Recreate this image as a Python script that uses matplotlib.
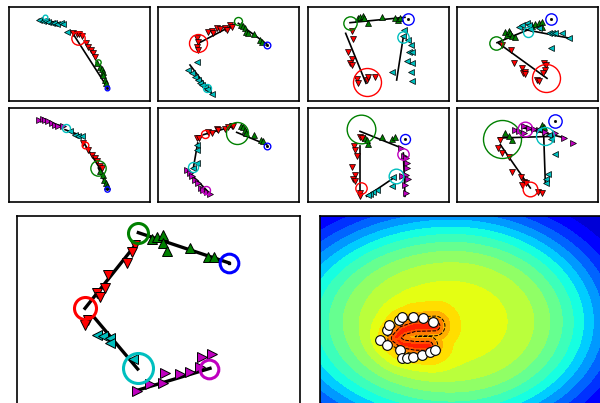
import numpy as np
import matplotlib
matplotlib.use("Agg")
import matplotlib.pyplot as plt

W, H = 600, 403

# ---------------- data (zoomed pixel units per panel) -------------
panel_origin = [(0, 0), (155, 0), (305, 0), (452, 0),
                (0, 103), (155, 103), (305, 103), (452, 103)]
panel_box = [(9, 7), (158, 7), (308, 7), (457, 7),
             (9, 108), (158, 108), (308, 108), (457, 108)]
panel_w, panel_h = 141, 94

nodes1 = [('c', 135, 50, 7), ('r', 235, 115, 20), ('g', 295, 185, 8), ('b', 322, 265, 7)]
segs1 = [(118, 58, 195, 72), (215, 95, 322, 262)]
pts1 = {'c': [(118, 60), (128, 62), (137, 63), (145, 66), (155, 68), (163, 70), (172, 72), (183, 70), (190, 72), (200, 95)],
        'r': [(220, 98), (230, 103), (238, 102), (245, 108), (258, 130), (265, 140), (272, 150), (280, 160), (285, 172)],
        'g': [(290, 190), (300, 200), (305, 208), (310, 215), (308, 225), (315, 240), (318, 250)]}

nodes2 = [('g', 248, 62, 12), ('b', 337, 135, 10), ('r', 128, 128, 27), ('c', 155, 265, 12)]
segs2 = [(250, 70, 335, 132), (130, 130, 240, 72), (105, 195, 170, 280)]
pts2 = {'g': [(258, 75), (265, 78), (270, 85), (272, 95), (280, 98), (298, 102), (315, 120), (320, 125)],
        'r': [(125, 115), (128, 125), (125, 140), (128, 150), (160, 95), (170, 92), (175, 100), (185, 85), (195, 88), (210, 85), (215, 90), (225, 75), (232, 80)],
        'c': [(125, 185), (100, 210), (110, 220), (120, 232), (130, 240), (135, 250), (140, 255), (150, 262), (160, 270), (170, 282), (155, 268)]}

nodes3 = [('g', 135, 68, 20), ('b', 310, 58, 17), ('r', 185, 245, 42), ('c', 295, 110, 17)]
segs3 = [(135, 68, 300, 52), (122, 100, 183, 250), (295, 110, 275, 240)]
pts3 = {'g': [(160, 55), (165, 50), (175, 48), (178, 55), (190, 70), (230, 50), (270, 55), (278, 60), (285, 55)],
        'r': [(140, 92), (145, 118), (130, 155), (140, 178), (135, 190), (140, 196), (155, 238), (160, 248), (185, 240), (190, 232), (210, 230)],
        'c': [(298, 90), (295, 108), (310, 120), (318, 135), (312, 155), (320, 155), (305, 183), (320, 190), (262, 215), (318, 215), (320, 242)]}

nodes4 = [('b', 298, 58, 17), ('g', 133, 128, 20), ('c', 228, 95, 15), ('r', 283, 233, 42)]
segs4 = [(135, 128, 270, 72), (215, 88, 355, 115), (140, 130, 285, 235)]
pts4 = {'g': [(160, 95), (165, 105), (170, 92), (175, 100), (180, 108), (190, 110), (240, 78), (250, 73), (262, 70), (270, 65), (270, 80)],
        'c': [(200, 80), (210, 75), (225, 70), (230, 75), (235, 88), (260, 85), (290, 100), (300, 98), (310, 100), (330, 100), (350, 113), (297, 143)],
        'r': [(150, 135), (178, 150), (187, 188), (210, 203), (213, 218), (220, 215), (218, 222), (275, 190), (282, 195), (278, 210), (272, 220), (255, 240), (262, 243)]}

nodes5 = [('c', 198, 75, 12), ('r', 255, 125, 10), ('g', 295, 195, 23), ('b', 322, 258, 8)]
segs5 = [(115, 50, 190, 70), (195, 80, 250, 100), (255, 125, 305, 205), (295, 195, 322, 255)]
pts5 = {'m': [(118, 50), (128, 48), (135, 52), (145, 55), (155, 60), (165, 65), (175, 68), (188, 68)],
        'c': [(210, 85), (225, 95), (235, 98), (245, 100)],
        'r': [(250, 120), (265, 140), (275, 155), (285, 165), (290, 175), (300, 190), (305, 195)],
        'g': [(300, 205), (310, 215), (312, 230), (318, 240), (322, 248)]}

nodes6 = [('r', 150, 92, 12), ('g', 245, 90, 33), ('b', 337, 128, 10), ('c', 115, 193, 15), ('m', 152, 262, 12)]
segs6 = [(145, 95, 235, 70), (245, 88, 335, 125), (128, 120, 115, 195), (95, 200, 165, 272)]
pts6 = {'r': [(125, 105), (132, 105), (160, 88), (170, 90), (185, 78), (190, 82), (210, 78), (220, 72), (230, 70), (235, 68)],
        'g': [(258, 68), (265, 72), (270, 80), (272, 90), (298, 97), (318, 112), (325, 115)],
        'c': [(125, 125), (125, 140), (125, 180), (115, 195)],
        'm': [(95, 200), (105, 210), (112, 220), (120, 230), (130, 240), (138, 255), (145, 262), (155, 268), (165, 272)]}

nodes7 = [('g', 168, 78, 43), ('b', 300, 108, 15), ('r', 168, 255, 17), ('m', 295, 152, 17), ('c', 272, 220, 22)]
segs7 = [(165, 85, 290, 135), (165, 130, 165, 270), (295, 150, 300, 280), (270, 222, 185, 280)]
pts7 = {'g': [(180, 105), (185, 112), (190, 122), (230, 102), (262, 108), (270, 103)],
        'r': [(165, 102), (172, 105), (148, 130), (150, 140), (155, 160), (142, 192), (150, 215), (145, 228), (150, 235), (165, 270), (165, 280)],
        'm': [(288, 135), (298, 158), (303, 165), (305, 180), (305, 195), (302, 215), (308, 228), (300, 245), (303, 270), (290, 218)],
        'c': [(260, 250), (215, 262), (205, 268), (195, 272), (190, 275), (265, 222)]}

nodes8 = [('g', 150, 108, 57), ('b', 310, 55, 20), ('m', 218, 78, 22), ('c', 278, 98, 27), ('r', 235, 258, 22)]
segs8 = [(140, 105, 305, 100), (215, 75, 340, 105), (275, 95, 280, 240), (145, 125, 235, 255)]
pts8 = {'g': [(160, 90), (170, 100), (180, 112), (270, 65), (275, 72)],
        'm': [(190, 82), (200, 85), (215, 90), (230, 75), (245, 78), (260, 82), (280, 88), (310, 90), (335, 105), (362, 120), (215, 70)],
        'c': [(262, 78), (290, 95), (298, 108), (308, 152), (288, 212), (283, 228), (282, 240)],
        'r': [(145, 110), (138, 135), (150, 150), (170, 162), (180, 208), (208, 222), (215, 238), (210, 245), (222, 240), (258, 268), (270, 270)]}

big_origin = (10, 210)
big_box = (17, 216, 283, 189)
nodes9 = [('g', 385, 68, 30), ('b', 658, 160, 28), ('r', 225, 293, 33), ('c', 383, 475, 45), ('m', 598, 477, 28)]
segs9 = [(385, 68, 655, 158), (225, 295, 380, 100), (255, 325, 383, 477), (385, 540, 600, 475)]
pts9 = {'g': [(425, 88), (440, 82), (460, 75), (460, 100), (470, 122), (540, 115), (595, 142), (612, 140)],
        'r': [(375, 105), (365, 125), (350, 158), (295, 195), (285, 235), (260, 248), (270, 262), (235, 330), (225, 345)],
        'c': [(260, 375), (280, 378), (300, 385), (300, 400), (370, 448)],
        'm': [(380, 542), (420, 522), (460, 520), (465, 488), (510, 492), (540, 485), (575, 440), (605, 432), (570, 470)]}

cont_origin = (315, 210)
cont_box = (320, 216, 283, 189)
cont_nodes = [(215, 360), (222, 345), (253, 330), (262, 322), (295, 320), (325, 325), (355, 335),
              (195, 390), (215, 405), (255, 420), (262, 445), (275, 445), (295, 440),
              (320, 435), (345, 425), (360, 420)]
ridge = [(360, 348), (300, 350), (262, 362), (240, 385), (262, 402), (300, 408), (340, 408)]
broad_center = (410, 335)
broad_scale = (470, 425, 305)   # left, right, vertical

panels = [(nodes1, segs1, pts1), (nodes2, segs2, pts2), (nodes3, segs3, pts3), (nodes4, segs4, pts4),
          (nodes5, segs5, pts5), (nodes6, segs6, pts6), (nodes7, segs7, pts7), (nodes8, segs8, pts8)]

colors = {'b': (0, 0, 1), 'g': (0, 0.5, 0), 'r': (1, 0, 0), 'c': (0, 0.75, 0.75), 'm': (0.75, 0, 0.75)}
markers = {'g': '^', 'r': 'v', 'c': '<', 'm': '>'}

fig = plt.figure(figsize=(W / 100, H / 100), dpi=100)


def make_ax(l, t, w, h):
    ax = fig.add_axes([l / W, 1 - (t + h) / H, w / W, h / H])
    ax.set_xlim(l, l + w)
    ax.set_ylim(t + h, t)
    ax.set_xticks([])
    ax.set_yticks([])
    for s in ax.spines.values():
        s.set_linewidth(1.2)
    return ax


def draw_panel(ax, origin, nodes, segs, pts, lw, ms, cw, tri_ms, tri_mew):
    ox, oy = origin
    cv = lambda x, y: (ox + x / 3.0, oy + y / 3.0)
    for (x1, y1, x2, y2) in segs:
        a = cv(x1, y1); b = cv(x2, y2)
        ax.plot([a[0], b[0]], [a[1], b[1]], '-', color='k', lw=lw, zorder=2)
    for c, plist in pts.items():
        xy = np.array([cv(x, y) for x, y in plist])
        ax.plot(xy[:, 0], xy[:, 1], linestyle='none', marker=markers[c], ms=tri_ms,
                mfc=colors[c], mec='k', mew=tri_mew, zorder=3)
    for (c, x, y, r) in nodes:
        px, py = cv(x, y)
        ax.plot([px], [py], 'o', ms=0.48 * r, mfc='none', mec=colors[c], mew=cw, zorder=4)
        if c == 'b':
            ax.plot([px], [py], 's', ms=ms, color='k', zorder=5)


for i, (nodes, segs, pts) in enumerate(panels):
    l, t = panel_box[i]
    ax = make_ax(l, t, panel_w, panel_h)
    draw_panel(ax, panel_origin[i], nodes, segs, pts, lw=1.2, ms=1.0, cw=1.0, tri_ms=4, tri_mew=0.5)

ax = make_ax(*big_box)
draw_panel(ax, big_origin, nodes9, segs9, pts9, lw=2.4, ms=2.0, cw=2.2, tri_ms=7.5, tri_mew=0.7)

# contour panel
ax = make_ax(*cont_box)
l, t, w, h = cont_box
ox, oy = cont_origin
gx = np.linspace(l, l + w, 400)
gy = np.linspace(t, t + h, 300)
X, Y = np.meshgrid(gx, gy)
ZX = (X - ox) * 3
ZY = (Y - oy) * 3
sxl, sxr, sy = broad_scale
sx = np.where(ZX < broad_center[0], sxl, sxr)
r = np.sqrt(((ZX - broad_center[0]) / sx) ** 2 + ((ZY - broad_center[1]) / sy) ** 2)
base = 0.62 * np.exp(-0.726 * r ** 3.3)
rp = np.array(ridge, float)
dmin = np.full(ZX.shape, np.inf)
for (x1, y1), (x2, y2) in zip(rp[:-1], rp[1:]):
    dx, dy = x2 - x1, y2 - y1
    tt = np.clip(((ZX - x1) * dx + (ZY - y1) * dy) / (dx * dx + dy * dy), 0, 1)
    d = np.hypot(ZX - (x1 + tt * dx), ZY - (y1 + tt * dy))
    dmin = np.minimum(dmin, d)
Z = base + 0.13 * np.exp(-dmin ** 2 / (2 * 45.0 ** 2)) + 0.12 * np.exp(-dmin ** 2 / (2 * 12.0 ** 2))
levels = np.linspace(0, 1, 21)
ax.contourf(X, Y, Z, levels=levels, cmap='jet', vmin=0, vmax=1)
ax.contour(X, Y, Z, levels=[0.73, 0.8], colors='k', linestyles='dashed', linewidths=0.7)
cn = np.array([(ox + x / 3.0, oy + y / 3.0) for x, y in cont_nodes])
ax.plot(cn[:, 0], cn[:, 1], 'o', ms=7, mfc='white', mec='k', mew=0.8, linestyle='none')
ax.set_xlim(l, l + w)
ax.set_ylim(t + h, t)

fig.savefig('out.png', dpi=100)
